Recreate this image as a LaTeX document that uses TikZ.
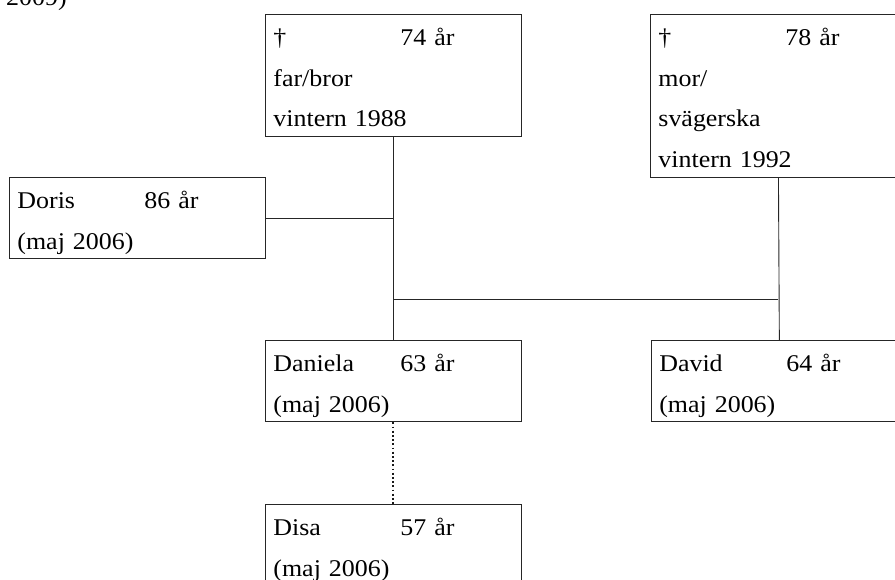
\documentclass[tikz,border=0pt]{standalone}
\usepackage{fontspec}
\setmainfont{Liberation Serif}[FakeStretch=1.08]
\usetikzlibrary{positioning}

\newcommand{\rowstrut}{\rule[-9.7pt]{0pt}{40.7pt}}
\newcommand{\agecol}[1]{\rowstrut\makebox[127pt][l]{#1}}

\begin{document}
\begin{tikzpicture}[
            x=1pt, y=-1pt,
            person/.style={
                draw=black!85,
                line width=0.9pt,
                anchor=north west,
                text width=240pt,
                inner xsep=8pt,
                inner ysep=0pt,
                align=left,
                font=\fontsize{24pt}{40.7pt}\selectfont
            },
            link/.style={
                draw=black!85,
                line width=0.9pt
            },
            node distance=82pt
        ]

            \useasboundingbox (0,0) rectangle (895,580);
            \clip (0,0) rectangle (895,580);

            % --- caption rest ---
            \node[anchor=base west, inner sep=0pt,
                  font=\fontsize{24pt}{28pt}\selectfont] (cap) at (6,6) {2009)};

            % --- Parents ---
            \node[person] (farbror) at (265,14)
                {\agecol{†}74 år\\ \rowstrut far/bror\\ \rowstrut vintern 1988};
            \node[person] (morsvag) at (650,14)
                {\agecol{†}78 år\\ \rowstrut mor/\\ \rowstrut svägerska\\ \rowstrut vintern 1992};

            % --- Doris ---
            \node[person] (doris) at (9,177)
                {\agecol{Doris}86 år\\ \rowstrut(maj 2006)};

            % --- Children ---
            \node[person] (daniela) at (265,340)
                {\agecol{Daniela}63 år\\ \rowstrut(maj 2006)};
            \node[person, right=129pt of daniela.north east, anchor=north west] (david)
                {\agecol{David}64 år\\ \rowstrut(maj 2006)};
            \node[person, below=82pt of daniela.south west, anchor=north west] (disa)
                {\agecol{Disa}57 år\\ \rowstrut(maj 2006)};

            % --- Lines ---
            \coordinate (mid) at (farbror.south |- 0,299);
            \draw[link] (farbror.south) -- (daniela.north);
            \draw[link] (doris.east) -- (farbror.south |- doris.east);
            \draw[link] (mid) -- (morsvag.south |- mid);
            \draw[link] (morsvag.south) -- (david.north);
            \draw[draw=black!90, line width=2pt, dash pattern=on 1.8pt off 2.4pt] (daniela.south) -- (disa.north);
        \end{tikzpicture}
\end{document}
